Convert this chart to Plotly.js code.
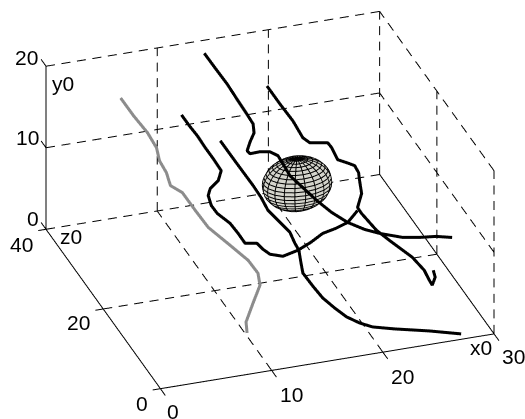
<!DOCTYPE html>
<html><head><meta charset="utf-8">
<script src="https://cdn.plot.ly/plotly-3.0.1.min.js"></script>
<style>html,body{margin:0;padding:0;background:#fff}#g{width:525px;height:419px}</style>
</head><body><div id="g"></div>
<script>
// Tick values of the three axes
const xTicks = [0, 10, 20, 30];
const yTicks = [0, 10, 20];
const zTicks = [0, 20, 40];
const xTitle = "x0", yTitle = "y0", zTitle = "z0";

// Streamlines
const grayX = [6.71,7.11,7.59,7.88,7.63,7.74,7.59,8.40,8.80,9.19,10.38,11.23,11.60,11.27,9.87,8.47,7.79];
const grayY = [14.6,13.78,13.06,12.14,11.59,11.07,10.5,9.95,9.13,8.43,7.44,6.88,6.19,5.77,5.35,4.81,5.09];
const grayZ = [40,37,34,32,30,28,26,25,22,19,16,13,11,9,6,3,0];

const line1X = [14.23,14.7,15.52,15.99,16.45,16.82,16.65,15.78,15.0,15.0,15.64,16.28,16.74,16.93,17.3,18.21,19.2,20.03,20.95,21.96,22.78,24.07,24.82,25.57,26.23];
const line1Y = [18.4,17.45,15.8,14.6,13.52,12.58,12.01,12.08,12.13,12.26,12.85,13.19,13.09,12.56,11.5,10.32,9.0,8.33,7.88,7.77,8.08,8.77,10.06,11.48,12.67];
const line1Z = [40,38,37,35,34,33,32,30,28,27,26,25,24,23,22,21,20,18,16,14,12,9,6,3,0];

const line2X = [19.87,20.52,21.17,21.55,21.92,22.47,23.02,23.12,23.14,23.69,24.15,24.25,24.08,23.75,22.87,22.97,23.55,24.19,25.22,25.52,25.46,25.47,25.22,24.53];
const line2Y = [13.12,11.75,10.51,9.33,9.12,9.49,9.85,9.71,9.22,9.22,9.24,8.85,8.4,7.86,7.33,7.06,6.32,5.93,5.58,5.39,5.16,5.04,7.05,9.03];
const line2Z = [40,38,36,34,33,32,31,30,28,27,26,25,24,22,20,19,16,14,10,7,5,4,2,0];

const line3X = [12.18,12.38,12.58,12.78,12.98,13.18,12.66,11.68,11.24,11.26,11.54,12.44,12.9,13.27,14.09,14.37,14.74,15.64,16.73,17.64,18.45,19.36,20.18,20.81];
const line3Y = [11.3,10.89,10.6,10.07,9.66,9.13,8.51,8.24,7.98,7.24,6.69,5.76,4.92,4.11,4.41,4.1,3.9,3.94,4.92,6.18,7.58,8.48,9.51,11.32];
const line3Z = [40,38,36,34,32,30,29,28,27,26,25,24,23,22,21,20,19,18,17,16,15,14,13,12];

const line4X = [15.67,16.33,17.08,17.28,17.39,17.86,18.33,18.26,18.11,17.77,17.44,17.82,18.2,18.24,18.8,19.45,20.36,21.81,24.43,27.04];
const line4Y = [7.35,5.98,4.47,3.94,3.31,2.84,2.37,2.02,2.17,1.76,1.47,0.77,0.2,0.92,0.68,0.77,0.57,0.98,1.12,0.66];
const line4Z = [40,37,34,32,30,28,26,24,22,20,18,16,14,10,8,6,5,3,1,0];

// Obstacle: centre and radius in data units
const sphereCentre = [20, 6, 30];
const sphereRadius = 3;
const sphereFaces = 20;

// Plotly scene: scene x = x0, scene y = z0, scene z = y0
const seg = (a, x1, y1, z1, x2, y2, z2) => {
  a.x.push(x1, x2, null); a.y.push(z1, z2, null); a.z.push(y1, y2, null);
};
const xMax = xTicks[xTicks.length-1], yMax = yTicks[yTicks.length-1], zMax = zTicks[zTicks.length-1];

// gl3d dashes stretch with the scene, so each dash is its own short stroke
const dashPeriod = {x:1.39, y:1.9, z:3.2};
const dashOn = 0.58;
const dashed = (a, axis, x1,y1,z1, x2,y2,z2) => {
  const len = Math.abs(x2-x1)+Math.abs(y2-y1)+Math.abs(z2-z1);
  const p = dashPeriod[axis];
  for(let s=0; s<len; s+=p){
    const t1=s/len, t2=Math.min(s+p*dashOn,len)/len;
    seg(a, x1+(x2-x1)*t1, y1+(y2-y1)*t1, z1+(z2-z1)*t1,
           x1+(x2-x1)*t2, y1+(y2-y1)*t2, z1+(z2-z1)*t2);
  }
};

const grid = {x:[],y:[],z:[]};
xTicks.slice(1,-1).forEach(v => dashed(grid,'z', v,0,0, v,0,zMax));
zTicks.slice(1).forEach(v => dashed(grid,'x', 0,0,v, xMax,0,v));
xTicks.slice(1).forEach(v => dashed(grid,'y', v,0,zMax, v,yMax,zMax));
yTicks.slice(1).forEach(v => dashed(grid,'x', 0,v,zMax, xMax,v,zMax));
yTicks.slice(1).forEach(v => dashed(grid,'z', xMax,v,0, xMax,v,zMax));
zTicks.slice(0,-1).forEach(v => dashed(grid,'y', xMax,0,v, xMax,yMax,v));

const box = {x:[],y:[],z:[]};
seg(box, 0,0,0, xMax,0,0);
seg(box, 0,0,0, 0,0,zMax);
seg(box, 0,0,zMax, 0,yMax,zMax);
seg(box, xMax,0,0, xMax,0,zMax);
yTicks.forEach(v => seg(box, 0,v,zMax, 0,v,zMax+1.7));
zTicks.forEach(v => seg(box, 0,0,v, -0.7,0,v));
xTicks.forEach(v => seg(box, v,0,0, v,0,-1.7));

const streamline = (x,y,z,color) => ({type:'scatter3d',mode:'lines',x:x,y:z,z:y,
  line:{color:color,width:6},hoverinfo:'skip',showlegend:false});

// Ellipsoid surface and its mesh lines
const sx=[],sy=[],sz=[];
const mesh={x:[],y:[],z:[]};
const pt=(i,j,r)=>{
  const th=Math.PI*i/sphereFaces, ph=2*Math.PI*j/sphereFaces;
  return [sphereCentre[0]+r*Math.sin(th)*Math.cos(ph),
          sphereCentre[2]+r*Math.sin(th)*Math.sin(ph),
          sphereCentre[1]+r*Math.cos(th)];
};
for(let i=0;i<=sphereFaces;i++){
  const a=[],b=[],c=[];
  for(let j=0;j<=sphereFaces;j++){const p=pt(i,j,sphereRadius);a.push(p[0]);b.push(p[1]);c.push(p[2]);}
  sx.push(a);sy.push(b);sz.push(c);
}
for(let i=1;i<sphereFaces;i++){
  for(let j=0;j<=sphereFaces;j++){const p=pt(i,j,sphereRadius*1.01);mesh.x.push(p[0]);mesh.y.push(p[1]);mesh.z.push(p[2]);}
  mesh.x.push(null);mesh.y.push(null);mesh.z.push(null);
}
for(let j=0;j<sphereFaces;j++){
  for(let i=0;i<=sphereFaces;i++){const p=pt(i,j,sphereRadius*1.01);mesh.x.push(p[0]);mesh.y.push(p[1]);mesh.z.push(p[2]);}
  mesh.x.push(null);mesh.y.push(null);mesh.z.push(null);
}

const traces=[
  {type:'scatter3d',mode:'lines',x:grid.x,y:grid.y,z:grid.z,line:{color:'#000',width:2},hoverinfo:'skip',showlegend:false},
  {type:'scatter3d',mode:'lines',x:box.x,y:box.y,z:box.z,line:{color:'#000',width:2},hoverinfo:'skip',showlegend:false},
  {type:'surface',x:sx,y:sy,z:sz,colorscale:[[0,'#d4d4cc'],[1,'#d4d4cc']],showscale:false,hoverinfo:'skip',
   lighting:{ambient:1,diffuse:0,specular:0,roughness:1,fresnel:0}},
  {type:'scatter3d',mode:'lines',x:mesh.x,y:mesh.y,z:mesh.z,line:{color:'#000',width:2},hoverinfo:'skip',showlegend:false},
  streamline(grayX,grayY,grayZ,'#8c8c8c'),
  streamline(line1X,line1Y,line1Z,'#000'),
  streamline(line2X,line2Y,line2Z,'#000'),
  streamline(line3X,line3Y,line3Z,'#000'),
  streamline(line4X,line4Y,line4Z,'#000')
];

const label=(text,x,y,z,dx,dy)=>({x:x,y:z,z:y,text:String(text),showarrow:false,xshift:dx,yshift:dy,
  xanchor:'center',yanchor:'middle',font:{family:'Liberation Sans, Arial, sans-serif',size:21,color:'#000'}});
const yShift=[[-13,11],[-19,10],[-20,9]];
const zShift=[[-18,-15],[-25,-14],[-25,-15]];
const xShift=[[13,-23],[20,-24],[20,-24],[19,-23]];
const annos=[
  ...yTicks.map((v,i)=>label(v,0,v,zMax,yShift[i][0],yShift[i][1])),
  ...zTicks.map((v,i)=>label(v,0,0,v,zShift[i][0],zShift[i][1])),
  ...xTicks.map((v,i)=>label(v,v,0,0,xShift[i][0],xShift[i][1])),
  label(xTitle,xMax,0,0,-13,-14),
  label(yTitle,0,yMax,zMax,17,-17),
  label(zTitle,0,0,zMax,25,-7)
];

const hidden=r=>({visible:false,range:r,autorange:false,showspikes:false});
const L=2;
const camCentre={x:-0.024,y:0,z:-0.0779};
const layout={
  width:525,height:419,margin:{l:0,r:0,t:0,b:0},paper_bgcolor:'#fff',showlegend:false,
  scene:{
    domain:{x:[0,1],y:[0,1]},
    xaxis:hidden([-1,30.5]),yaxis:hidden([-2,42]),zaxis:hidden([-0.5,22]),
    aspectmode:'manual',aspectratio:{x:1.768,y:1.85,z:0.9972},
    camera:{projection:{type:'orthographic'},up:{x:0,y:0,z:1},center:camCentre,
      eye:{x:camCentre.x-0.285*L,y:camCentre.y-0.83*L,z:camCentre.z+0.478*L}},
    annotations:annos
  }
};
Plotly.newPlot('g',traces,layout,{displayModeBar:false,responsive:false});
</script></body></html>
